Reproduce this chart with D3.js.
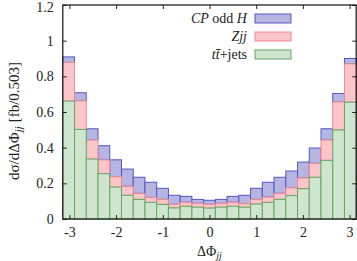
<!DOCTYPE html>
<html lang="en">
<head>
<meta charset="UTF-8">
<title>dsigma / dDeltaPhi_jj</title>
<script src="https://d3js.org/d3.v7.min.js"></script>
<style>
  body { margin: 0; background: #fff; }
  svg text { font-family: "Liberation Serif", "DejaVu Serif", serif; fill: #222; }
</style>
</head>
<body>
<div id="chart"></div>
<script>
// 25 bins over [-pi, pi]
var nBins = 25;
var binEdges = d3.range(nBins + 1).map(function(i) { return -Math.PI + i * 2 * Math.PI / nBins; });

// series values per bin (stacked: ttbar at the bottom)
var ttbar = [0.661, 0.502, 0.336, 0.254, 0.179, 0.133, 0.110, 0.093, 0.082, 0.062, 0.071, 0.066, 0.061,
             0.066, 0.071, 0.066, 0.084, 0.093, 0.110, 0.131, 0.170, 0.234, 0.329, 0.499, 0.655];
var zjj   = [0.217, 0.161, 0.107, 0.077, 0.058, 0.050, 0.034, 0.028, 0.028, 0.020, 0.023, 0.022, 0.021,
             0.022, 0.023, 0.020, 0.026, 0.030, 0.034, 0.044, 0.060, 0.078, 0.114, 0.158, 0.215];
var cpOdd = [0.031, 0.045, 0.063, 0.080, 0.095, 0.097, 0.090, 0.085, 0.062, 0.051, 0.033, 0.022, 0.023,
             0.022, 0.033, 0.047, 0.062, 0.083, 0.090, 0.094, 0.089, 0.086, 0.063, 0.047, 0.030];

var xTicks = [-3, -2, -1, 0, 1, 2, 3];
var yTicks = [0, 0.2, 0.4, 0.6, 0.8, 1, 1.2];

var seriesKeys = ["ttbar", "zjj", "cpOdd"];
var fills   = {ttbar: "#cfe5cf", zjj: "#fcc5c9", cpOdd: "#b5b5e2"};
var strokes = {ttbar: "#62a862", zjj: "#f08a92", cpOdd: "#5656c4"};

var margin = {top: 5, right: 0.8, bottom: 42, left: 62.8},
    width = 357 - margin.left - margin.right,
    height = 261 - margin.top - margin.bottom;

var svg = d3.select("#chart").append("svg")
    .attr("width", 357)
    .attr("height", 261)
  .append("g")
    .attr("transform", "translate(" + margin.left + "," + margin.top + ")");

var x = d3.scaleLinear().domain([-Math.PI, Math.PI]).range([0, width]);
var y = d3.scaleLinear().domain([0, 1.2]).range([height, 0]);

// build table for the stack
var table = d3.range(nBins).map(function(i) {
    return {x0: binEdges[i], x1: binEdges[i + 1], ttbar: ttbar[i], zjj: zjj[i], cpOdd: cpOdd[i]};
});
var stacked = d3.stack().keys(seriesKeys)(table);

// draw top layers first so lower layers' outlines sit on the boundaries
stacked.slice().reverse().forEach(function(layer) {
    svg.append("g").selectAll("rect")
        .data(layer)
        .join("rect")
        .attr("x", function(d) { return x(d.data.x0); })
        .attr("width", function(d) { return x(d.data.x1) - x(d.data.x0); })
        .attr("y", function(d) { return y(d[1]); })
        .attr("height", function(d) { return y(d[0]) - y(d[1]); })
        .attr("fill", fills[layer.key])
        .attr("stroke", strokes[layer.key])
        .attr("stroke-width", 1);
});

// axes with inward ticks
var fmtX = function(d) { return String(d); };
var fmtY = function(d) { return String(+d.toFixed(1)); };

var gx = svg.append("g").attr("transform", "translate(0," + height + ")")
    .call(d3.axisBottom(x).tickValues(xTicks).tickSize(-4).tickPadding(8).tickFormat(fmtX));
var gy = svg.append("g")
    .call(d3.axisLeft(y).tickValues(yTicks).tickSize(-4).tickPadding(9).tickFormat(fmtY));
var gt = svg.append("g")
    .call(d3.axisTop(x).tickValues(xTicks).tickSize(-4).tickFormat(""));
var gr = svg.append("g").attr("transform", "translate(" + width + ",0)")
    .call(d3.axisRight(y).tickValues(yTicks).tickSize(-4).tickFormat(""));

[gx, gy, gt, gr].forEach(function(g) {
    g.select(".domain").remove();
    g.selectAll("line").attr("stroke", "#222");
    g.selectAll("text").style("font-size", "14px").attr("fill", "#222")
        .style("font-family", "'Liberation Serif', serif");
});
// keep the top label inside the picture
gy.selectAll(".tick text").filter(function(d) { return d === 1.2; }).attr("dy", "0.45em");

svg.append("rect")
    .attr("width", width).attr("height", height)
    .attr("fill", "none").attr("stroke", "#111").attr("stroke-width", 1.2);

// axis titles
var xt = svg.append("text")
    .attr("x", x(0)).attr("y", height + 37)
    .attr("text-anchor", "middle").style("font-size", "14px");
xt.append("tspan").text("ΔΦ");
xt.append("tspan").attr("dy", 3).style("font-size", "10px").style("font-style", "italic").text("jj");

var yt = svg.append("text")
    .attr("transform", "translate(" + (19 - margin.left) + "," + (121 - margin.top) + ") rotate(-90)")
    .attr("text-anchor", "middle").style("font-size", "15px");
yt.append("tspan").text("dσ/dΔΦ");
yt.append("tspan").attr("dy", 3).style("font-size", "11px").style("font-style", "italic").text("jj");
yt.append("tspan").attr("dy", -3).text(" [fb/0.503]");

// legend
var legendRows = [
    {key: "cpOdd", parts: [["CP", "italic"], [" odd ", "normal"], ["H", "italic"]]},
    {key: "zjj", parts: [["Zjj", "italic"]]},
    {key: "ttbar", parts: [["tt\u0304", "italic"], ["+jets", "normal"]]}
];
legendRows.forEach(function(row, i) {
    var yy = 18 * i;
    svg.append("rect")
        .attr("x", 255 - margin.left).attr("y", 14 - margin.top + yy)
        .attr("width", 36).attr("height", 9)
        .attr("fill", fills[row.key]).attr("stroke", strokes[row.key]).attr("stroke-width", 1);
    var t = svg.append("text")
        .attr("x", 247 - margin.left).attr("y", 23 - margin.top + yy)
        .attr("text-anchor", "end").style("font-size", "14px");
    row.parts.forEach(function(p) {
        t.append("tspan").style("font-style", p[1]).text(p[0]);
    });
});
</script>
</body>
</html>
